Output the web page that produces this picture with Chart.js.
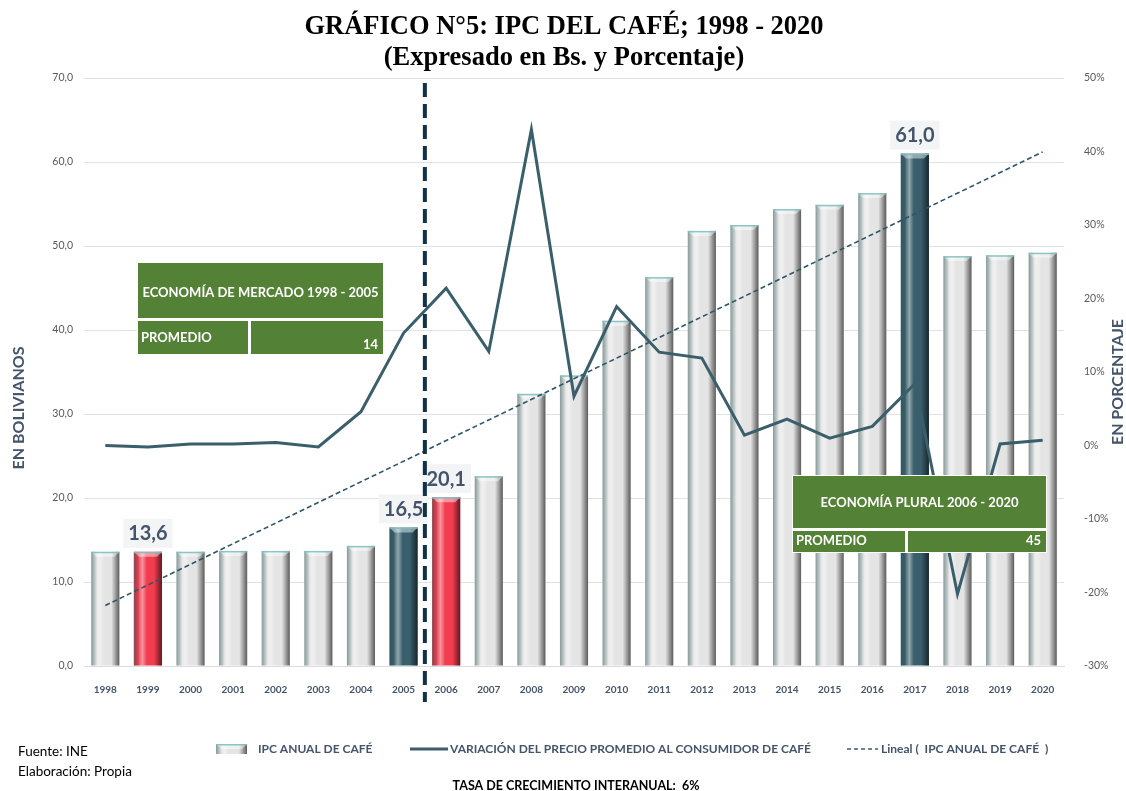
<!DOCTYPE html>
<html>
<head>
<meta charset="utf-8">
<script src="https://cdn.jsdelivr.net/npm/chart.js@4.4.1/dist/chart.umd.min.js"></script>
<style>
  html, body { margin: 0; padding: 0; background: #fff; }
  #wrap { position: relative; width: 1126px; height: 791px; }
</style>
</head>
<body>
<div id="wrap"><canvas id="chart"></canvas></div>
<script>
// IPC del café 1998 - 2020

const years = ['1998', '1999', '2000', '2001', '2002', '2003', '2004', '2005', '2006', '2007', '2008', '2009',
               '2010', '2011', '2012', '2013', '2014', '2015', '2016', '2017', '2018', '2019', '2020'];

// IPC anual de café (Bs.)
const ipcCafe = [13.6, 13.6, 13.6, 13.7, 13.7, 13.7, 14.3, 16.5, 20.1, 22.6, 32.4, 34.6,
                 41.1, 46.3, 51.8, 52.5, 54.4, 54.9, 56.3, 61.0, 48.8, 48.9, 49.2];

// variación del precio promedio (%)
const variacion = [0.0, -0.2, 0.2, 0.2, 0.4, -0.2, 4.6, 15.3, 21.4, 12.8, 43.0, 6.7,
                   18.9, 12.7, 11.9, 1.4, 3.6, 1.0, 2.6, 8.4, -20.2, 0.2, 0.7];

// lineal (tendencia): only the two end points
const tendencia = [7.2, null, null, null, null, null, null, null, null, null, null, null,
                   null, null, null, null, null, null, null, null, null, null, 61.2];

const redYears     = ['1999', '2006'];
const tealYears    = ['2005', '2017'];
const labeledYears = ['1999', '2005', '2006', '2017'];

const TEXT_BLUE = '#44546a';
const GRAY_BAR  = '#e4e4e4';
const RED_BAR   = '#f23c4f';
const TEAL_BAR  = '#3a5f6c';
const LINE_COL  = '#3a5f6a';
const GREEN     = '#538135';
const SANS      = 'Lato, "Open Sans", sans-serif';

const barColors = years.map(y =>
  redYears.includes(y) ? RED_BAR : tealYears.includes(y) ? TEAL_BAR : GRAY_BAR);

const fmtBs = v => v.toFixed(1).replace('.', ',');

// ── bar bevel ──────────────────────────────────────────────────────────
function bevel(ctx, l, top, w, base) {
  const r = l + w, h = base - top;
  let g = ctx.createLinearGradient(l, 0, l + 6, 0);
  g.addColorStop(0, 'rgba(40,80,80,0.5)');
  g.addColorStop(1, 'rgba(40,80,80,0)');
  ctx.fillStyle = g;
  ctx.fillRect(l, top, 6, h);

  g = ctx.createLinearGradient(l + 4, 0, l + 13, 0);
  g.addColorStop(0, 'rgba(255,255,255,0)');
  g.addColorStop(0.5, 'rgba(255,255,255,0.45)');
  g.addColorStop(1, 'rgba(255,255,255,0)');
  ctx.fillStyle = g;
  ctx.fillRect(l + 4, top, 9, h);

  g = ctx.createLinearGradient(r - 8, 0, r, 0);
  g.addColorStop(0, 'rgba(0,0,0,0)');
  g.addColorStop(1, 'rgba(0,0,0,0.6)');
  ctx.fillStyle = g;
  ctx.fillRect(r - 8, top, 8, h);

  // top cap
  ctx.fillStyle = 'rgba(255,255,255,0.45)';
  ctx.beginPath();
  ctx.moveTo(l, top);
  ctx.lineTo(r, top);
  ctx.lineTo(r - 5, top + 5);
  ctx.lineTo(l + 5, top + 5);
  ctx.closePath();
  ctx.fill();
  ctx.fillStyle = 'rgba(120,190,190,0.85)';
  ctx.fillRect(l, top, w, 1.5);
}

const bevelPlugin = {
  id: 'bevel',
  afterDatasetDraw(chart, args) {
    if (args.index !== 0) return;
    const ctx = chart.ctx;
    ctx.save();
    args.meta.data.forEach(el => {
      bevel(ctx, el.x - el.width / 2, el.y, el.width, el.base);
    });
    ctx.restore();
  }
};

// ── labels, divider, boxes, texts ──────────────────────────────────────
function greenBox(ctx, b) {
  ctx.fillStyle = '#ffffff';
  ctx.fillRect(b.x - 1, b.y - 1, b.w + 2, b.h + 2);
  ctx.fillStyle = GREEN;
  ctx.fillRect(b.x, b.y, b.w, b.topH);
  ctx.fillRect(b.x, b.y + b.topH + 3, b.split, b.h - b.topH - 3);
  ctx.fillRect(b.x + b.split + 3, b.y + b.topH + 3, b.w - b.split - 3, b.h - b.topH - 3);

  ctx.fillStyle = '#ffffff';
  ctx.font = 'bold 13px ' + SANS;
  ctx.textBaseline = 'middle';
  ctx.textAlign = 'center';
  ctx.fillText(b.title, b.x + b.w / 2, b.y + b.topH / 2 + b.titleDy);
  ctx.textAlign = 'left';
  ctx.fillText('PROMEDIO', b.x + 3, b.promY);
  ctx.textAlign = 'right';
  ctx.fillText(b.value, b.x + b.w - 5, b.valY);
}

const overlayPlugin = {
  id: 'overlay',
  afterDatasetsDraw(chart) {
    const { ctx } = chart;
    const xs = chart.scales.x, ys = chart.scales.y;
    ctx.save();

    // data labels
    ctx.font = 'bold 20px ' + SANS;
    ctx.textAlign = 'center';
    ctx.textBaseline = 'middle';
    labeledYears.forEach(yr => {
      const i = years.indexOf(yr);
      const x = xs.getPixelForValue(i);
      const top = ys.getPixelForValue(ipcCafe[i]);
      const txt = fmtBs(ipcCafe[i]);
      const w = ctx.measureText(txt).width + 10;
      ctx.fillStyle = '#f3f4f6';
      ctx.fillRect(x - w / 2, top - 33, w, 29);
      ctx.fillStyle = TEXT_BLUE;
      ctx.fillText(txt, x, top - 18);
    });

    // divider between 2005 and 2006
    const dx = (xs.getPixelForValue(7) + xs.getPixelForValue(8)) / 2;
    ctx.strokeStyle = '#0f3249';
    ctx.lineWidth = 4;
    ctx.setLineDash([14, 7]);
    ctx.beginPath();
    ctx.moveTo(dx, 83);
    ctx.lineTo(dx, 702);
    ctx.stroke();
    ctx.setLineDash([]);

    // period boxes
    greenBox(ctx, { x: 138, y: 263, w: 245, h: 91, topH: 55, split: 110,
      title: 'ECONOMÍA DE MERCADO 1998 - 2005', titleDy: 2,
      promY: 338, value: '14', valY: 345 });
    greenBox(ctx, { x: 793, y: 476, w: 253, h: 76, topH: 52, split: 112,
      title: 'ECONOMÍA PLURAL 2006 - 2020', titleDy: 1,
      promY: 541, value: '45', valY: 541 });

    ctx.restore();
  },
  afterDraw(chart) {
    const { ctx } = chart;
    ctx.save();

    // title
    ctx.fillStyle = '#000';
    ctx.textAlign = 'center';
    ctx.textBaseline = 'middle';
    ctx.font = 'bold 26.5px "Liberation Serif", "Times New Roman", serif';
    ctx.fillText('GRÁFICO N°5: IPC DEL CAFÉ; 1998 - 2020', 564, 27);
    ctx.fillText('(Expresado en Bs. y Porcentaje)', 564, 58);

    // axis titles
    ctx.fillStyle = TEXT_BLUE;
    ctx.font = 'bold 16px ' + SANS;
    ctx.save();
    ctx.translate(19, 408);
    ctx.rotate(-Math.PI / 2);
    ctx.fillText('EN BOLIVIANOS', 0, 0);
    ctx.restore();
    ctx.save();
    ctx.translate(1118, 382);
    ctx.rotate(-Math.PI / 2);
    ctx.fillText('EN PORCENTAJE', 0, 0);
    ctx.restore();

    // legend
    const ly = 749;
    ctx.fillStyle = GRAY_BAR;
    ctx.fillRect(216, ly - 5, 31, 10);
    bevel(ctx, 216, ly - 5, 31, ly + 5);
    ctx.strokeStyle = LINE_COL;
    ctx.lineWidth = 3;
    ctx.beginPath();
    ctx.moveTo(410, ly);
    ctx.lineTo(448, ly);
    ctx.stroke();
    ctx.lineWidth = 1.5;
    ctx.setLineDash([4, 3]);
    ctx.beginPath();
    ctx.moveTo(847, ly);
    ctx.lineTo(878, ly);
    ctx.stroke();
    ctx.setLineDash([]);

    ctx.fillStyle = TEXT_BLUE;
    ctx.font = 'bold 12px ' + SANS;
    ctx.textAlign = 'left';
    ctx.fillText(chart.data.datasets[0].label, 258, ly);
    ctx.fillText(chart.data.datasets[1].label, 450, ly);
    ctx.fillText(chart.data.datasets[2].label, 881, ly);

    // notes
    ctx.fillStyle = '#000';
    ctx.font = '13.5px ' + SANS;
    ctx.fillText('Fuente: INE', 18, 752);
    ctx.fillText('Elaboración: Propia', 18, 772);
    ctx.font = 'bold 12.5px ' + SANS;
    ctx.textAlign = 'center';
    ctx.fillText('TASA DE CRECIMIENTO INTERANUAL:  6%', 576, 786);

    ctx.restore();
  }
};

new Chart(document.getElementById('chart'), {
  data: {
    labels: years,
    datasets: [
      {
        type: 'bar',
        label: 'IPC ANUAL DE CAFÉ',
        data: ipcCafe,
        backgroundColor: barColors,
        borderWidth: 0,
        categoryPercentage: 1,
        barPercentage: 0.66,
        yAxisID: 'y',
        order: 3
      },
      {
        type: 'line',
        label: 'VARIACIÓN DEL PRECIO PROMEDIO AL CONSUMIDOR DE CAFÉ',
        data: variacion,
        borderColor: LINE_COL,
        borderWidth: 3,
        pointRadius: 0,
        tension: 0,
        fill: false,
        yAxisID: 'y1',
        order: 1
      },
      {
        type: 'line',
        label: 'Lineal (  IPC ANUAL DE CAFÉ  )',
        data: tendencia,
        spanGaps: true,
        borderColor: '#2f5667',
        borderWidth: 1.6,
        borderDash: [5, 3],
        pointRadius: 0,
        fill: false,
        yAxisID: 'y',
        order: 2
      }
    ]
  },
  options: {
    responsive: true,
    maintainAspectRatio: false,
    animation: false,
    layout: { padding: { top: 78, left: 0, right: 0, bottom: 0 } },
    plugins: {
      legend: { display: false },
      title: { display: false },
      tooltip: { enabled: false }
    },
    scales: {
      x: {
        afterFit: s => { s.height = 125; },
        grid: { display: false },
        border: { display: true, color: '#d9dde3' },
        ticks: {
          padding: 10,
          maxRotation: 0,
          autoSkip: false,
          color: TEXT_BLUE,
          font: { family: SANS, size: 10, weight: 'bold' }
        }
      },
      y: {
        position: 'left',
        min: 0,
        max: 70,
        afterFit: s => { s.width = 84; },
        border: { display: false },
        grid: { color: '#dfe3e9', lineWidth: 1, drawTicks: false },
        ticks: {
          stepSize: 10,
          padding: 11,
          color: '#595959',
          font: { family: SANS, size: 10.5 },
          callback: v => fmtBs(v)
        }
      },
      y1: {
        position: 'right',
        min: -30,
        max: 50,
        afterFit: s => { s.width = 62; },
        border: { display: false },
        grid: { display: false },
        ticks: {
          stepSize: 10,
          padding: 12,
          color: '#595959',
          font: { family: SANS, size: 10.5 },
          callback: v => v + '%'
        }
      }
    }
  },
  plugins: [bevelPlugin, overlayPlugin]
});
</script>
</body>
</html>
